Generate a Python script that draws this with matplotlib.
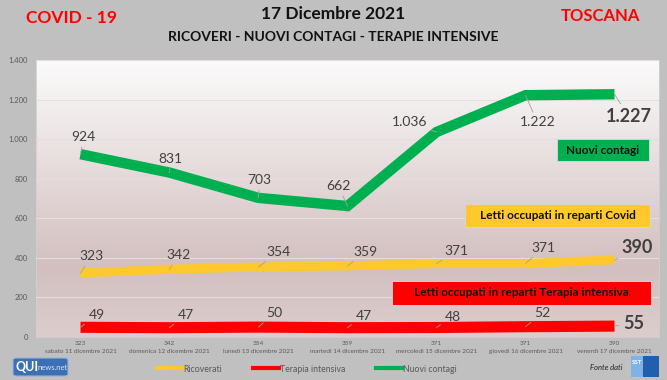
import numpy as np
import matplotlib
matplotlib.use("Agg")
import matplotlib.pyplot as plt
from matplotlib.colors import LinearSegmentedColormap
from matplotlib.patches import Rectangle, FancyBboxPatch
from matplotlib.lines import Line2D

plt.rcParams['font.family'] = ['Lato', 'DejaVu Sans']

giorni = ['sabato 11 dicembre 2021', 'domenica 12 dicembre 2021', 'lunedì 13 dicembre 2021',
          'martedì 14 dicembre 2021', 'mercoledì 15 dicembre 2021', 'giovedì 16 dicembre 2021',
          'venerdì 17 dicembre 2021']
ricoverati = [323, 342, 354, 359, 371, 371, 390]
terapia = [49, 47, 50, 47, 48, 52, 55]
contagi = [924, 831, 703, 662, 1036, 1222, 1227]

# label offsets in pixels (text centre relative to the point)
off_contagi = [(3, 17), (1, 14), (1, 18), (-9, 20), (-27, 10), (12, -27), (14, -22)]
off_ricoverati = [(11, 17), (9, 14), (20, 15), (18, 14), (20, 13), (18, 16), (23, 12)]
off_terapia = [(16, 12), (16, 13), (16, 14), (16, 12), (16, 11), (17, 14), (19, 3)]

VERDE = '#00b050'
GIALLO = '#ffc82c'
ROSSO = '#ff0000'
GRIGIO = '#404040'


def fmt(v):
    return f"{v:,}".replace(',', '.')


fig = plt.figure(figsize=(6.67, 3.8), dpi=100)
fig.patch.set_facecolor('#c0c0c0')
ax = fig.add_axes([36/667, 43/380, 623/667, 277/380])

# gradient plot area
cmap = LinearSegmentedColormap.from_list('bg', [(0, '#dccdcd'), (0.25, '#d3bfbf'), (1, '#fbfbfb')])
grad = np.linspace(0, 1, 256).reshape(-1, 1)
ax.imshow(grad, cmap=cmap, extent=[0, 1, 0, 1], transform=ax.transAxes,
          aspect='auto', origin='lower', zorder=0)

x = np.arange(len(giorni))
ax.plot(x, contagi, color=VERDE, lw=7.5, solid_capstyle='butt', solid_joinstyle='miter', zorder=3)
ax.plot(x, ricoverati, color=GIALLO, lw=6.5, solid_capstyle='butt', zorder=3)
ax.plot(x, terapia, color=ROSSO, lw=8, solid_capstyle='butt', zorder=3)

ax.set_xlim(-0.5, 6.5)
ax.set_ylim(0, 1400)
ax.set_yticks(range(0, 1401, 200))
ax.set_yticklabels([fmt(v) for v in range(0, 1401, 200)], fontsize=5.5, color='#595959')
ax.yaxis.grid(True, color='#e6dede', lw=0.8)
ax.set_axisbelow(False)
for gl in ax.get_ygridlines():
    gl.set_zorder(1)
ax.set_xticks(x)
ax.set_xticklabels([f"{r}\n{g}" for r, g in zip(ricoverati, giorni)],
                   fontsize=4.6, color='#595959', linespacing=1.8)
ax.tick_params(axis='x', length=0, pad=3)
ax.tick_params(axis='y', length=0, pad=6)
for s in ax.spines.values():
    s.set_color('#d0d0d0')
    s.set_linewidth(0.6)


def etichette(valori, offsets):
    n = len(valori)
    for i, (v, o) in enumerate(zip(valori, offsets)):
        last = i == n - 1
        ax.annotate(fmt(v), xy=(i, v), xytext=o, textcoords='offset pixels',
                    ha='center', va='center', zorder=5,
                    fontsize=13 if last else 10, fontweight='bold' if last else 'normal',
                    color=GRIGIO,
                    arrowprops=dict(arrowstyle='-', color='#a0a0a0', lw=0.6,
                                    shrinkA=1, shrinkB=0))


etichette(contagi, off_contagi)
etichette(ricoverati, off_ricoverati)
etichette(terapia, off_terapia)

# labelled boxes
def box(x0, y0, w, h, colore, testo):
    fig.patches.append(Rectangle((x0/667, 1 - (y0 + h)/380), w/667, h/380,
                                 transform=fig.transFigure, facecolor=colore,
                                 edgecolor='#d8d8d8', lw=0.6, zorder=6))
    fig.text((x0 + w/2)/667, 1 - (y0 + h/2)/380, testo, ha='center', va='center',
             fontsize=8.5, fontweight='bold', color='#111111', zorder=7)


box(557, 139, 92, 22, VERDE, 'Nuovi contagi')
box(465, 204, 185, 23, GIALLO, 'Letti occupati in reparti Covid')
box(392, 281, 259, 24, ROSSO, 'Letti occupati in reparti Terapia intensiva')

# titles
fig.text(72/667, 1 - 18/380, 'COVID - 19', color=ROSSO, fontsize=12.5, fontweight='bold',
         ha='center', va='center')
fig.text(600/667, 1 - 16/380, 'TOSCANA', color=ROSSO, fontsize=12, fontweight='bold',
         ha='center', va='center')
fig.text(333/667, 1 - 14/380, '17 Dicembre 2021', color='#111111', fontsize=12.5,
         fontweight='bold', ha='center', va='center')
fig.text(333/667, 1 - 37/380, 'RICOVERI - NUOVI CONTAGI - TERAPIE INTENSIVE', color='#111111',
         fontsize=10, fontweight='bold', ha='center', va='center')

# legend
handles = [Line2D([], [], color=GIALLO, lw=3),
           Line2D([], [], color=ROSSO, lw=3),
           Line2D([], [], color=VERDE, lw=3)]
leg = fig.legend(handles, ['Ricoverati', 'Terapia intensiva', 'Nuovi contagi'],
                 loc='center', bbox_to_anchor=(0.46, 1 - 369/380), ncol=3, frameon=False,
                 fontsize=6.3, handlelength=3, handletextpad=0.1, columnspacing=3.5)
for t in leg.get_texts():
    t.set_color('#595959')

# logos
fig.patches.append(FancyBboxPatch((13/667, 1 - 376/380), 55/667, 18/380,
                                  boxstyle='round,pad=0,rounding_size=0.005',
                                  transform=fig.transFigure, facecolor='#3d6fb5',
                                  edgecolor='#9ab4d8', lw=0.8))
fig.text(16/667, 1 - 367/380, 'QUI', color='white', fontsize=9, fontweight='bold',
         va='center', ha='left')
fig.text(38/667, 1 - 368/380, 'news.net', color='#dce6f4', fontsize=5.5, va='center', ha='left')
fig.text(606/667, 1 - 368/380, 'Fonte dati', color='#222222', fontsize=5.5, style='italic',
         ha='center', va='center')
fig.patches.append(Rectangle((631/667, 1 - 377/380), 28/667, 21/380,
                             transform=fig.transFigure, facecolor='#1f5fae', edgecolor='none'))
fig.patches.append(Rectangle((631/667, 1 - 377/380), 12/667, 21/380,
                             transform=fig.transFigure, facecolor='#7fb2e5', edgecolor='none'))
fig.text(637/667, 1 - 362/380, 'SST', color='white', fontsize=4.5, fontweight='bold',
         ha='center', va='center')

fig.savefig('out.png', dpi=100, facecolor=fig.get_facecolor())
